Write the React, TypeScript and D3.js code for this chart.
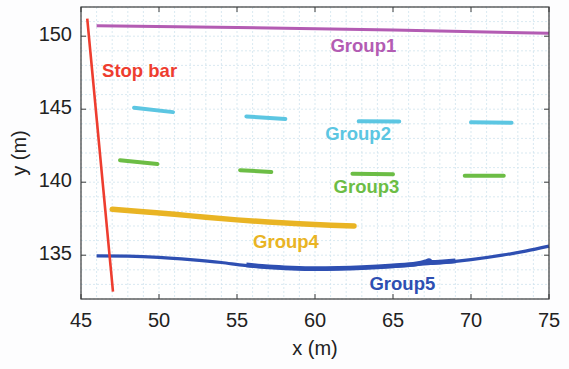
import * as d3 from "d3"

const W = 569
const H = 369
const margin = { top: 7, right: 20, bottom: 70, left: 81 }
const plotW = W - margin.left - margin.right
const plotH = H - margin.top - margin.bottom

const xTicks = [45, 50, 55, 60, 65, 70, 75]
const yTicks = [135, 140, 145, 150]

// [x, y] pairs
const stopBar: [number, number][] = [
  [45.4, 151.2],
  [47.05, 132.5],
]
const group1: [number, number][] = [
  [46.0, 150.72],
  [55, 150.6],
  [65, 150.42],
  [75, 150.2],
]
const group2Segments: [number, number][][] = [
  [[48.4, 145.1], [50.9, 144.8]],
  [[55.6, 144.5], [58.1, 144.33]],
  [[62.8, 144.17], [65.4, 144.15]],
  [[70.0, 144.1], [72.6, 144.07]],
]
const group3Segments: [number, number][][] = [
  [[47.5, 141.5], [49.9, 141.25]],
  [[55.2, 140.82], [57.2, 140.7]],
  [[62.4, 140.58], [65.0, 140.55]],
  [[69.6, 140.45], [72.1, 140.45]],
]
const group4: [number, number][] = [
  [47.0, 138.15], [49, 137.97], [51, 137.8], [53, 137.6], [55, 137.42],
  [57, 137.27], [59, 137.15], [61, 137.05], [62.5, 137.0],
]
const group5: [number, number][] = [
  [46.0, 134.95], [48, 134.93], [50, 134.85], [52, 134.7], [54, 134.5],
  [55.5, 134.3], [57, 134.18], [58.5, 134.1], [60, 134.06], [61.5, 134.08],
  [63, 134.13], [65, 134.23], [67, 134.4], [69, 134.58], [70, 134.7],
  [72, 135.0], [73.5, 135.28], [75, 135.62],
]
// noisy, thicker stretch of Group5
const group5Dense: [number, number][] = [
  [55.6, 134.33], [57, 134.2], [58.5, 134.12], [60, 134.08], [61.5, 134.1],
  [63, 134.15], [65, 134.27], [66.5, 134.4], [67.1, 134.55], [67.3, 134.62],
  [67.5, 134.5], [68.2, 134.55], [69, 134.62],
]

const labels = [
  { text: "Stop bar", x: 46.35, y: 147.55, color: "#ee3d2f", anchor: "start" },
  { text: "Group1", x: 63.1, y: 149.26, color: "#b35cb3", anchor: "middle" },
  { text: "Group2", x: 62.76, y: 143.23, color: "#5cc6e2", anchor: "middle" },
  { text: "Group3", x: 63.3, y: 139.58, color: "#6cbd45", anchor: "middle" },
  { text: "Group4", x: 58.14, y: 135.85, color: "#e9b424", anchor: "middle" },
  { text: "Group5", x: 65.6, y: 132.96, color: "#2e4fb2", anchor: "middle" },
]

const x = d3.scaleLinear().domain([45, 75]).range([0, plotW])
const y = d3.scaleLinear().domain([132, 152]).range([plotH, 0])
const line = d3
  .line<[number, number]>()
  .x((d) => x(d[0]))
  .y((d) => y(d[1]))
const smooth = d3
  .line<[number, number]>()
  .x((d) => x(d[0]))
  .y((d) => y(d[1]))
  .curve(d3.curveMonotoneX)

const font = "'Liberation Sans', Arial, Helvetica, sans-serif"

export default function App() {
  const gridX = d3.range(45, 76, 1)
  const gridY = d3.range(132, 153, 1)
  const axisColor = "#3a3a3a"

  return (
    <svg
      width={W}
      height={H}
      style={{ position: "absolute", left: 0, top: 0, background: "#fdfdfe" }}
      fontFamily={font}
    >
      <g transform={`translate(${margin.left},${margin.top})`}>
        <rect width={plotW} height={plotH} fill="#ffffff" />

        {/* grid */}
        {gridX.map((v) => (
          <line
            key={"gx" + v}
            x1={x(v)}
            x2={x(v)}
            y1={0}
            y2={plotH}
            stroke="#cfe3ee"
            strokeWidth={0.8}
            strokeDasharray="2,2"
          />
        ))}
        {gridY.map((v) => (
          <line
            key={"gy" + v}
            x1={0}
            x2={plotW}
            y1={y(v)}
            y2={y(v)}
            stroke="#cfe3ee"
            strokeWidth={0.8}
            strokeDasharray="2,2"
          />
        ))}

        {/* data */}
        <path d={line(group1)!} fill="none" stroke="#b35cb3" strokeWidth={3} />
        {group2Segments.map((s, i) => (
          <path key={"g2" + i} d={line(s)!} fill="none" stroke="#5cc6e2" strokeWidth={4} strokeLinecap="round" />
        ))}
        {group3Segments.map((s, i) => (
          <path key={"g3" + i} d={line(s)!} fill="none" stroke="#6cbd45" strokeWidth={4} strokeLinecap="round" />
        ))}
        <path d={smooth(group4)!} fill="none" stroke="#e9b424" strokeWidth={5.5} strokeLinecap="round" />
        <path d={smooth(group5)!} fill="none" stroke="#2e4fb2" strokeWidth={3.2} strokeLinejoin="round" />
        <path d={smooth(group5Dense)!} fill="none" stroke="#2e4fb2" strokeWidth={4.8} strokeLinejoin="round" />
        <path d={line(stopBar)!} fill="none" stroke="#ee3d2f" strokeWidth={2.6} />

        {labels.map((l) => (
          <text
            key={l.text}
            x={x(l.x)}
            y={y(l.y)}
            fill={l.color}
            fontSize={18.5}
            fontWeight="bold"
            textAnchor={l.anchor}
            dominantBaseline="middle"
          >
            {l.text}
          </text>
        ))}

        {/* box */}
        <rect width={plotW} height={plotH} fill="none" stroke={axisColor} strokeWidth={1.2} />

        {/* ticks */}
        {xTicks.map((v) => (
          <g key={"xt" + v}>
            <line x1={x(v)} x2={x(v)} y1={plotH} y2={plotH - 5} stroke={axisColor} />
            <line x1={x(v)} x2={x(v)} y1={0} y2={5} stroke={axisColor} />
            <text x={x(v)} y={plotH + 23} fontSize={20} fill="#222" textAnchor="middle" dominantBaseline="middle">
              {v}
            </text>
          </g>
        ))}
        {yTicks.map((v) => (
          <g key={"yt" + v}>
            <line x1={0} x2={5} y1={y(v)} y2={y(v)} stroke={axisColor} />
            <line x1={plotW} x2={plotW - 5} y1={y(v)} y2={y(v)} stroke={axisColor} />
            <text x={-9} y={y(v)} fontSize={20} fill="#222" textAnchor="end" dominantBaseline="middle">
              {v}
            </text>
          </g>
        ))}

        <text x={plotW / 2} y={plotH + 51} fontSize={20} fill="#222" textAnchor="middle" dominantBaseline="middle">
          x (m)
        </text>
        <text
          transform={`translate(${-60},${plotH / 2}) rotate(-90)`}
          fontSize={20}
          fill="#222"
          textAnchor="middle"
          dominantBaseline="middle"
        >
          y (m)
        </text>
      </g>
    </svg>
  )
}
